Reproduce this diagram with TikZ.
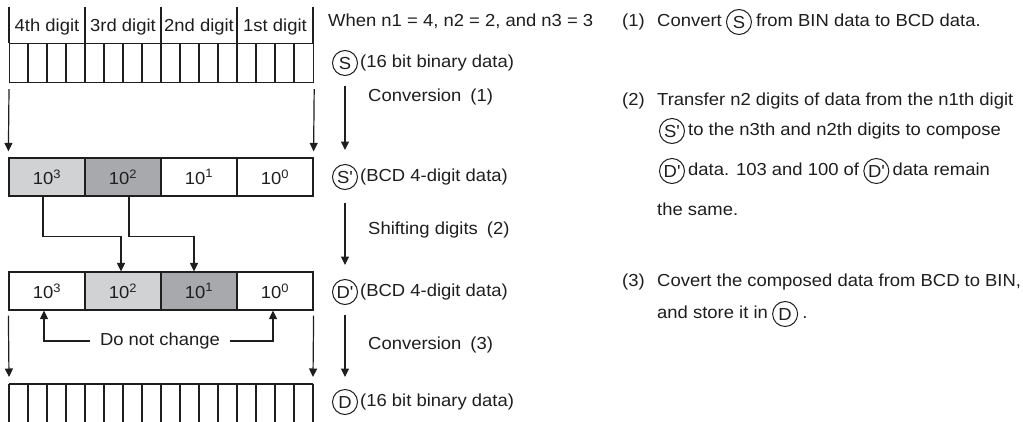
\documentclass[tikz,border=0pt]{standalone}
\usepackage{fontspec}
\setmainfont{Liberation Sans}[FakeStretch=1.06]
\usetikzlibrary{arrows.meta}
\definecolor{ink}{HTML}{1E1E1E}
\definecolor{lgray}{HTML}{D1D2D4}
\definecolor{dgray}{HTML}{A7A9AC}
\begin{document}
\begin{tikzpicture}[x=1pt,y=-1pt,
  font=\fontsize{17.4}{20}\selectfont,
  every node/.style={text=ink},
  ln/.style={draw=ink, line width=1.2pt},
  arr/.style={draw=ink, line width=1.2pt, -{Triangle[width=8pt,length=8.5pt]}},
  lab/.style={inner sep=0pt, text height=12.4pt, text depth=3.6pt},
  txt/.style={lab, anchor=west},
  circ/.style={circle, draw=ink, line width=1pt, minimum size=25pt, inner sep=0pt, text height=12.4pt, text depth=0pt},
  cell/.style={draw=ink, line width=1.2pt, minimum width=76pt, minimum height=38pt, inner sep=0pt},
]
\useasboundingbox (0,0) rectangle (1023,421);

% header
\foreach \x in {9,85,161,237,313} \draw[ln] (\x,7) -- (\x,43);
\node[lab] (h4) at (47,27) {4th digit};
\node[lab] (h3) at (123,27) {3rd digit};
\node[lab] (h2) at (199,27) {2nd digit};
\node[lab] (h1) at (275,27) {1st digit};

% S bits
\node[cell, minimum width=304pt, minimum height=39pt, anchor=north west] (Sbits) at (9,43) {};
\foreach \i in {1,...,15} \draw[ln] (9+19*\i,43) -- (9+19*\i,82);

% S' row
\node[cell, fill=lgray] (s3) at (47,177) {10\textsuperscript{3}};
\node[cell, fill=dgray] (s2) at (123,177) {10\textsuperscript{2}};
\node[cell] (s1) at (199,177) {10\textsuperscript{1}};
\node[cell] (s0) at (275,177) {10\textsuperscript{0}};

% D' row
\node[cell] (d3) at (47,291) {10\textsuperscript{3}};
\node[cell, fill=lgray] (d2) at (123,291) {10\textsuperscript{2}};
\node[cell, fill=dgray] (d1) at (199,291) {10\textsuperscript{1}};
\node[cell] (d0) at (275,291) {10\textsuperscript{0}};

% D bits
\coordinate (Dtl) at (9,384);
\coordinate (Dtr) at (313,384);
\draw[ln] (Dtl) -- (Dtr);
\foreach \i in {0,...,16} \draw[ln] (9+19*\i,384) -- (9+19*\i,422);

% left arrows
\draw[arr] ([yshift=-6pt]Sbits.south west) -- ([yshift=6pt]s3.north west);
\draw[arr] ([yshift=-6pt]Sbits.south east) -- ([yshift=6pt]s0.north east);
\draw[arr] ([yshift=-5pt]d3.south west) -- ([yshift=7pt]Dtl);
\draw[arr] ([yshift=-5pt]d0.south east) -- ([yshift=7pt]Dtr);

% shifting connectors
\draw[arr] ([xshift=-4pt]s3.south) -- ++(0,40) -| ([xshift=-2pt]d2.north);
\draw[arr] ([xshift=6pt]s2.south) -- ++(0,40) -| ([xshift=-5pt]d1.north);

% do not change
\node[lab] (dnc) at (160,341) {Do not change};
\draw[arr] ([xshift=-10pt]dnc.west) -| ([xshift=-3pt]d3.south);
\draw[arr] ([xshift=10pt]dnc.east) -| ([xshift=-2pt]d0.south);

% middle column
\node[txt] (when) at (328,22) {When n1 = 4, n2 = 2, and n3 = 3};
\node[circ] (cS) at (345,63) {S};
\node[txt] (tS) at ([xshift=2pt]cS.east) {(16 bit binary data)};
\node[circ] (cSp) at (345,177) {S\textquotesingle};
\node[txt] (tSp) at ([xshift=2pt]cSp.east) {(BCD 4-digit data)};
\node[circ] (cDp) at (345,292) {D\textquotesingle};
\node[txt] (tDp) at ([xshift=2pt]cDp.east) {(BCD 4-digit data)};
\node[circ] (cD) at (345,402) {D};
\node[txt] (tD) at ([xshift=2pt]cD.east) {(16 bit binary data)};

\draw[arr, shorten <=10pt, shorten >=14pt] (cS) -- (cSp);
\draw[arr, shorten <=13pt, shorten >=14pt] (cSp) -- (cDp);
\draw[arr, shorten <=10pt, shorten >=12pt] (cDp) -- (cD);

\node[txt] (c1) at (368,97) {Conversion\hspace{9pt}(1)};
\node[txt] (c2) at (368,230) {Shifting digits\hspace{9pt}(2)};
\node[txt] (c3) at (368,345) {Conversion\hspace{9pt}(3)};

% right text
\node[txt] (n1) at (622,22) {(1)};
\node[txt] (t1a) at (657,22) {Convert};
\node[circ] (r1S) at ([xshift=17pt]t1a.east) {S};
\node[txt] (t1b) at ([xshift=4pt]r1S.east) {from BIN data to BCD data.};

\node[txt] (n2) at (622,101) {(2)};
\node[txt] (t2a) at (657,101) {Transfer n2 digits of data from the n1th digit};
\node[circ] (r2S) at (672,131) {S\textquotesingle};
\node[txt] (t2b) at ([xshift=3pt]r2S.east) {to the n3th and n2th digits to compose};
\node[circ] (r2D) at (672,171) {D\textquotesingle};
\node[txt] (t2c) at ([xshift=3pt]r2D.east) {data. 103 and 100 of};
\node[circ] (r2D2) at ([xshift=17pt]t2c.east) {D\textquotesingle};
\node[txt] (t2d) at ([xshift=3pt]r2D2.east) {data remain};
\node[txt] (t2e) at (657,211) {the same.};

\node[txt] (n3) at (622,282) {(3)};
\node[txt] (t3a) at (657,282) {Covert the composed data from BCD to BIN,};
\node[txt] (t3b) at (657,314) {and store it in};
\node[circ] (r3D) at ([xshift=17pt]t3b.east) {D};
\node[txt] (t3c) at ([xshift=4pt]r3D.east) {.};
\end{tikzpicture}
\end{document}
